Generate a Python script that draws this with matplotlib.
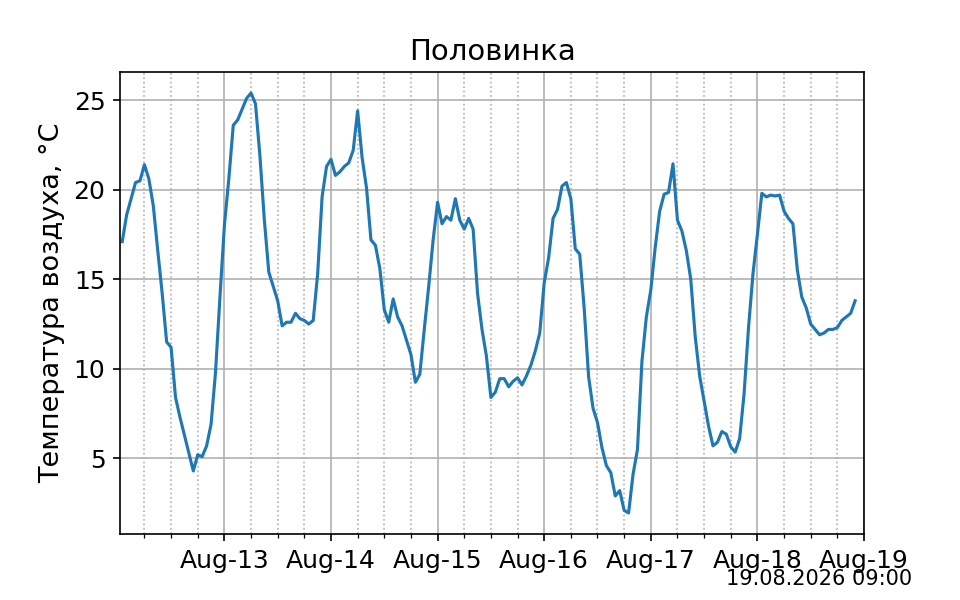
import matplotlib
matplotlib.use("Agg")
import matplotlib.pyplot as plt
import matplotlib.dates as mdates
import numpy as np
import pandas as pd

# Hourly air temperature, starting 12 Aug 2026 01:00
start_time = "2026-08-12 01:00"
temperature = [
    17.1, 18.6, 19.5, 20.4, 20.5, 21.4, 20.6, 19.1, 16.6, 14.2,   # h1-10
    11.5, 11.2, 8.4, 7.3, 6.3, 5.3, 4.3, 5.2, 5.1, 5.7,           # h11-20
    6.9, 9.8, 14.0, 18.0, 20.6, 23.6, 23.9, 24.5, 25.1, 25.4,     # h21-30
    24.8, 21.9, 18.3, 15.4, 14.6, 13.8, 12.4, 12.6, 12.6, 13.1,   # h31-40
    12.8, 12.7, 12.5, 12.7, 15.3, 19.6, 21.3, 21.7, 20.8, 21.0,   # h41-50
    21.3, 21.5, 22.2, 24.4, 21.8, 20.1, 17.2, 16.9, 15.6, 13.3,   # h51-60
    12.6, 13.9, 12.9, 12.4, 11.6, 10.8, 9.25, 9.7, 12.2, 14.6,    # h61-70
    17.2, 19.3, 18.1, 18.5, 18.3, 19.5, 18.3, 17.8, 18.4, 17.8,   # h71-80
    14.2, 12.2, 10.7, 8.4, 8.7, 9.45, 9.45, 9.0, 9.3, 9.5,        # h81-90
    9.1, 9.6, 10.2, 11.0, 12.0, 14.8, 16.2, 18.4, 18.9, 20.2,     # h91-100
    20.4, 19.5, 16.7, 16.4, 13.4, 9.55, 7.8, 7.0, 5.6, 4.6,       # h101-110
    4.2, 2.9, 3.2, 2.1, 1.95, 4.1, 5.5, 10.4, 12.9, 14.4,         # h111-120
    16.8, 18.8, 19.75, 19.85, 21.45, 18.3, 17.7, 16.6, 15.0, 11.8, # h121-130
    9.6, 8.2, 6.8, 5.7, 5.9, 6.5, 6.35, 5.65, 5.35, 6.1,          # h131-140
    8.6, 12.3, 15.3, 17.5, 19.8, 19.6, 19.7, 19.65, 19.7, 18.8,   # h141-150
    18.4, 18.1, 15.5, 14.0, 13.4, 12.5, 12.2, 11.9, 12.0, 12.2,   # h151-160
    12.2, 12.3, 12.7, 12.9, 13.1, 13.8,                           # h161-166
]
times = pd.date_range(start_time, periods=len(temperature), freq="h")

x_left = pd.Timestamp("2026-08-12 00:30")
x_right = pd.Timestamp("2026-08-19 00:00")

title = "Половинка"
ylabel = "Температура воздуха, °C"
stamp = "19.08.2026 09:00"

fig, ax = plt.subplots(figsize=(6.4, 4), dpi=150)
ax.plot(times, temperature, color="#1f77b4", linewidth=1.5)
ax.set_xlim(x_left, x_right)

ax.xaxis.set_major_locator(mdates.DayLocator())
ax.xaxis.set_major_formatter(mdates.DateFormatter("%b-%d"))
ax.xaxis.set_minor_locator(mdates.HourLocator(byhour=[6, 12, 18]))
ax.tick_params(axis="both", which="major", labelsize=12)
ax.grid(which="major", color="#b0b0b0", linewidth=0.8)
ax.grid(which="minor", axis="x", color="#b0b0b0", linestyle=":", linewidth=0.8)

ax.set_title(title, fontsize=14)
ax.set_ylabel(ylabel, fontsize=13)
fig.text(0.95, 0.025, stamp, ha="right", va="baseline", fontsize=10)

fig.savefig("out.png", dpi=150)
